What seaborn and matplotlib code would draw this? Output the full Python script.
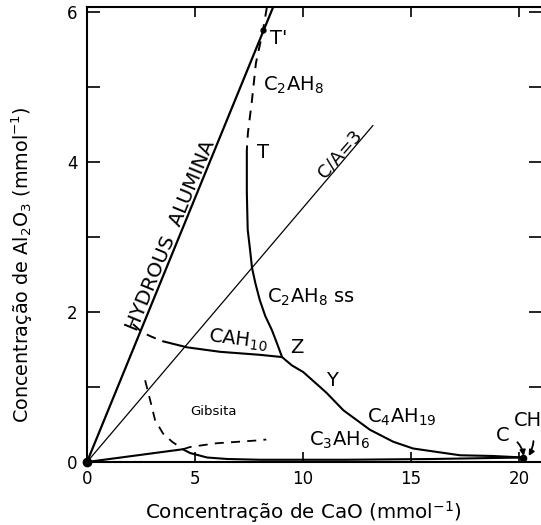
import matplotlib
matplotlib.use("Agg")
import matplotlib.pyplot as plt
import seaborn as sns

# ---------------- data ----------------
hydrous_x = [0.0, 8.62]
hydrous_y = [0.0, 6.07]
ca3_x = [0.0, 13.24]
ca3_y = [0.0, 4.49]
c2ah8_meta_x = [8.33, 8.15, 7.82, 7.64, 7.45, 7.40]
c2ah8_meta_y = [6.07, 5.76, 5.32, 4.83, 4.39, 4.16]
ss_x = [7.40, 7.40, 7.44, 7.55, 7.64, 7.80, 8.00, 8.25, 8.56, 8.80, 9.03, 9.48,
        10.01, 10.87, 11.10, 11.87, 13.10, 14.18, 15.10, 16.30, 17.27, 18.80, 20.20]
ss_y = [4.16, 3.60, 3.10, 2.83, 2.59, 2.38, 2.16, 1.95, 1.76, 1.58, 1.40, 1.29,
        1.20, 0.98, 0.92, 0.69, 0.43, 0.27, 0.18, 0.13, 0.09, 0.08, 0.06]
cah10_meta_x = [2.13, 2.55, 3.00, 3.52]
cah10_meta_y = [1.84, 1.73, 1.67, 1.61]
cah10_x = [3.52, 4.63, 6.16, 8.00, 9.03]
cah10_y = [1.61, 1.53, 1.47, 1.43, 1.40]
gibbs_meta_x = [2.69, 2.92, 3.15, 3.52, 3.94, 4.30, 4.44]
gibbs_meta_y = [1.09, 0.83, 0.56, 0.38, 0.27, 0.20, 0.17]
gibbs_upper_x = [4.44, 4.77, 6.00, 8.00, 8.30]
gibbs_upper_y = [0.17, 0.20, 0.25, 0.29, 0.30]
c3ah6_x = [0.0, 4.44, 4.77, 5.56, 6.50, 8.00, 12.0, 16.0, 20.2]
c3ah6_y = [0.0, 0.17, 0.12, 0.06, 0.04, 0.03, 0.03, 0.04, 0.06]

x_ticks = [0, 5, 10, 15, 20]
x_ticklabels = ["0", "5", "10", "15", "20"]
y_ticks = [0, 1, 2, 3, 4, 5, 6]
y_ticklabels = ["0", "", "2", "", "4", "", "6"]

# ---------------- figure ----------------
sns.set_style("ticks", rc={"text.color": "black", "axes.labelcolor": "black",
                           "xtick.color": "black", "ytick.color": "black",
                           "axes.edgecolor": "black"})
plt.rcParams["font.family"] = ["DejaVu Sans"]
plt.rcParams["mathtext.fontset"] = "dejavusans"

fig = plt.figure(figsize=(5.41, 5.25), dpi=100)
ax = fig.add_axes([87 / 541, 63 / 525, 454 / 541, 455 / 525])

def draw(x, y, ls="-", lw=1.5):
    sns.lineplot(x=x, y=y, ax=ax, color="black", sort=False, estimator=None,
                 linewidth=lw, linestyle=ls)

draw(hydrous_x, hydrous_y, lw=1.6)
draw(ca3_x, ca3_y, lw=0.9)
draw(c2ah8_meta_x, c2ah8_meta_y, ls=(0, (5, 4)), lw=1.4)
draw(ss_x, ss_y, lw=1.5)
draw(cah10_meta_x, cah10_meta_y, ls=(0, (5, 4)), lw=1.4)
draw(cah10_x, cah10_y, lw=1.5)
draw(gibbs_meta_x, gibbs_meta_y, ls=(0, (5, 4)), lw=1.3)
draw(gibbs_upper_x, gibbs_upper_y, ls=(0, (5, 4)), lw=1.3)
draw(c3ah6_x, c3ah6_y, lw=1.5)

# invariant-point blobs
ax.plot([0], [0], "o", color="black", markersize=6, clip_on=False)
ax.plot([c2ah8_meta_x[1]], [c2ah8_meta_y[1]], "o", color="black", markersize=3.5)
ax.plot([ss_x[-1]], [ss_y[-1]], "o", color="black", markersize=4.5, clip_on=False)

# ---------------- labels ----------------
fs = 14
ax.text(3.88, 3.02, "HYDROUS  ALUMINA", rotation=67.6, ha="center", va="center",
        fontsize=14.5, rotation_mode="anchor")
ax.text(11.72, 4.11, "C/A=3", rotation=49, ha="center", va="center",
        fontsize=13, rotation_mode="anchor")
ax.text(8.89, 5.65, "T'", ha="center", va="center", fontsize=fs)
ax.text(9.58, 5.03, r"C$_2$AH$_8$", ha="center", va="center", fontsize=fs)
ax.text(8.15, 4.13, "T", ha="center", va="center", fontsize=fs)
ax.text(10.37, 2.20, r"C$_2$AH$_8$ ss", ha="center", va="center", fontsize=fs)
ax.text(6.99, 1.63, r"CAH$_{10}$", ha="center", va="center", fontsize=fs,
        rotation=-7, rotation_mode="anchor")
ax.text(9.72, 1.53, "Z", ha="center", va="center", fontsize=fs)
ax.text(11.34, 1.09, "Y", ha="center", va="center", fontsize=fs)
ax.text(14.58, 0.60, r"C$_4$AH$_{19}$", ha="center", va="center", fontsize=fs)
ax.text(11.67, 0.29, r"C$_3$AH$_6$", ha="center", va="center", fontsize=fs)
ax.text(5.85, 0.68, "Gibsita", ha="center", va="center", fontsize=9.5)

ax.annotate("C", xy=(20.22, 0.08), xytext=(19.26, 0.36), ha="center", va="center",
            fontsize=fs, annotation_clip=False,
            arrowprops=dict(arrowstyle="-|>", color="black", lw=1.3,
                            connectionstyle="arc3,rad=-0.35",
                            shrinkA=4, shrinkB=0, mutation_scale=8))
ax.annotate("CH", xy=(20.45, 0.08), xytext=(20.40, 0.56), ha="center", va="center",
            fontsize=fs, annotation_clip=False,
            arrowprops=dict(arrowstyle="-|>", color="black", lw=1.3,
                            connectionstyle="arc3,rad=-0.3",
                            shrinkA=6, shrinkB=0, mutation_scale=8))

# ---------------- axes ----------------
ax.set_xlim(0, 21.02)
ax.set_ylim(0, 6.07)
ax.set_xticks(x_ticks)
ax.set_xticklabels(x_ticklabels)
ax.set_yticks(y_ticks)
ax.set_yticklabels(y_ticklabels)
ax.tick_params(axis="both", direction="in", labelsize=12, width=1.2,
               top=True, right=True, color="black", labelcolor="black")
ax.tick_params(axis="x", length=7, pad=6)
ax.tick_params(axis="y", length=9, pad=7)
for side in ["left", "bottom", "top"]:
    ax.spines[side].set_linewidth(1.5)
    ax.spines[side].set_color("black")
ax.spines["right"].set_visible(False)

ax.set_xlabel("Concentração de CaO (mmol$^{-1}$)", fontsize=14.3, color="black")
ax.xaxis.set_label_coords((303 - 87) / 454, (462 - 512) / 455)
ax.xaxis.label.set_va("center")
ax.set_ylabel("Concentração de Al$_2$O$_3$ (mmol$^{-1}$)", fontsize=13.8, color="black")
ax.yaxis.set_label_coords((22 - 87) / 454, (462 - 265) / 455)
ax.yaxis.label.set_va("center")

fig.savefig("out.png", dpi=100)
